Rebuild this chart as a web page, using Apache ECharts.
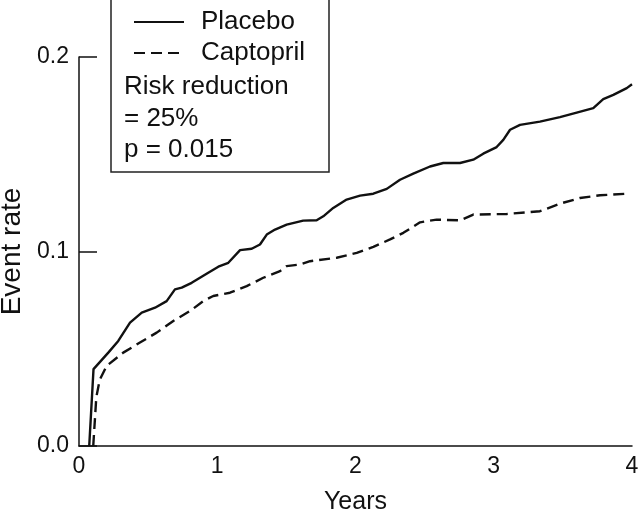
<!DOCTYPE html>
<html>
<head>
<meta charset="utf-8">
<script src="https://cdn.jsdelivr.net/npm/echarts@6/dist/echarts.min.js"></script>
<style>html,body{margin:0;padding:0;background:#fff;}#c{width:640px;height:513px;}</style>
</head>
<body>
<div id="c"></div>
<script>
// Years of follow-up and cumulative event rate
const placeboYears = [0.074, 0.105, 0.212, 0.284, 0.369, 0.454, 0.55, 0.634, 0.694, 0.743, 0.815, 0.935, 1.008, 1.08, 1.165, 1.249, 1.309, 1.358, 1.418, 1.502, 1.622, 1.719, 1.767, 1.839, 1.936, 2.033, 2.129, 2.226, 2.322, 2.418, 2.539, 2.635, 2.756, 2.852, 2.924, 3.021, 3.069, 3.118, 3.19, 3.334, 3.479, 3.6, 3.72, 3.792, 3.865, 3.962, 4.0];
const placeboRate = [0, 0.0395, 0.048, 0.054, 0.0634, 0.0686, 0.0711, 0.0745, 0.0805, 0.0814, 0.0839, 0.0891, 0.0922, 0.0942, 0.1007, 0.1014, 0.1036, 0.1087, 0.1113, 0.1138, 0.1159, 0.1161, 0.1181, 0.1224, 0.1267, 0.1287, 0.1297, 0.1322, 0.1369, 0.140, 0.1437, 0.1455, 0.1455, 0.1472, 0.1503, 0.1537, 0.1574, 0.1626, 0.1651, 0.1668, 0.1691, 0.1714, 0.1737, 0.1783, 0.1805, 0.184, 0.186];
const captoprilYears = [0.103, 0.125, 0.15, 0.2, 0.32, 0.441, 0.562, 0.682, 0.803, 0.899, 0.971, 1.092, 1.213, 1.333, 1.454, 1.502, 1.599, 1.671, 1.864, 2.009, 2.129, 2.25, 2.346, 2.467, 2.587, 2.756, 2.852, 3.094, 3.334, 3.479, 3.624, 3.769, 3.962];
const captoprilRate = [0, 0.025, 0.034, 0.0412, 0.048, 0.0532, 0.0583, 0.0643, 0.0694, 0.0745, 0.0771, 0.0788, 0.0822, 0.0865, 0.0899, 0.0925, 0.0933, 0.095, 0.0968, 0.0993, 0.1024, 0.1062, 0.1096, 0.115, 0.1164, 0.116, 0.119, 0.1193, 0.1207, 0.1246, 0.1275, 0.1289, 0.1297];
const seriesNames = ['Placebo', 'Captopril'];
const xTicks = [0, 1, 2, 3, 4];
const yTicks = [0, 0.1, 0.2];
const noteLines = ['Risk reduction', '= 25%', 'p = 0.015'];

const FONT = '"Liberation Sans", Arial, Helvetica, sans-serif';
const zip = (a, b) => a.map((x, i) => [x, b[i]]);

const chart = echarts.init(document.getElementById('c'), null, {renderer: 'canvas'});
chart.setOption({
  animation: false,
  backgroundColor: '#fff',
  textStyle: {fontFamily: FONT, color: '#111'},
  grid: {left: 79, right: 8, top: 57, bottom: 67, containLabel: false, outerBoundsMode: 'none'},
  xAxis: {
    type: 'value', min: xTicks[0], max: xTicks[xTicks.length - 1], interval: 1,
    name: 'Years', nameLocation: 'middle', nameGap: 44,
    nameTextStyle: {fontFamily: FONT, fontSize: 25, color: '#111'},
    axisLine: {lineStyle: {color: '#111', width: 1.5}},
    axisTick: {show: false},
    splitLine: {show: false},
    axisLabel: {fontFamily: FONT, fontSize: 23, color: '#111', margin: 9}
  },
  yAxis: {
    type: 'value', min: yTicks[0], max: yTicks[yTicks.length - 1], interval: 0.1,
    name: 'Event rate', nameLocation: 'middle', nameGap: 53,
    nameTextStyle: {fontFamily: FONT, fontSize: 28, color: '#111'},
    axisLine: {lineStyle: {color: '#111', width: 1.5}},
    axisTick: {inside: true, length: 18, lineStyle: {color: '#111', width: 1.5}},
    splitLine: {show: false},
    axisLabel: {fontFamily: FONT, fontSize: 23, color: '#111', margin: 10,
      formatter: v => v.toFixed(1)}
  },
  legend: {
    orient: 'vertical', left: 133, top: 9, padding: 0,
    itemWidth: 50, itemHeight: 14, itemGap: 5,
    data: seriesNames,
    itemStyle: {opacity: 0},
    textStyle: {fontFamily: FONT, fontSize: 26, color: '#111', lineHeight: 26, padding: [0, 0, 0, 12]}
  },
  graphic: [
    {type: 'rect', shape: {x: 111, y: -1, width: 218, height: 173},
     style: {fill: 'none', stroke: '#222', lineWidth: 1.5}, silent: true},
    ...noteLines.map((t, i) => ({
      type: 'text', left: 124, top: 74 + i * 31.5,
      style: {text: t, font: '26px ' + FONT, fill: '#111'}, silent: true
    }))
  ],
  series: [
    {name: seriesNames[0], type: 'line', showSymbol: false, symbol: 'none', smooth: false,
     data: zip(placeboYears, placeboRate),
     lineStyle: {color: '#111', width: 2.4, type: 'solid'}, itemStyle: {color: '#111'}},
    {name: seriesNames[1], type: 'line', showSymbol: false, symbol: 'none', smooth: false,
     data: zip(captoprilYears, captoprilRate),
     lineStyle: {color: '#111', width: 2.4, type: [11, 6]}, itemStyle: {color: '#111'}}
  ]
});
</script>
</body>
</html>
